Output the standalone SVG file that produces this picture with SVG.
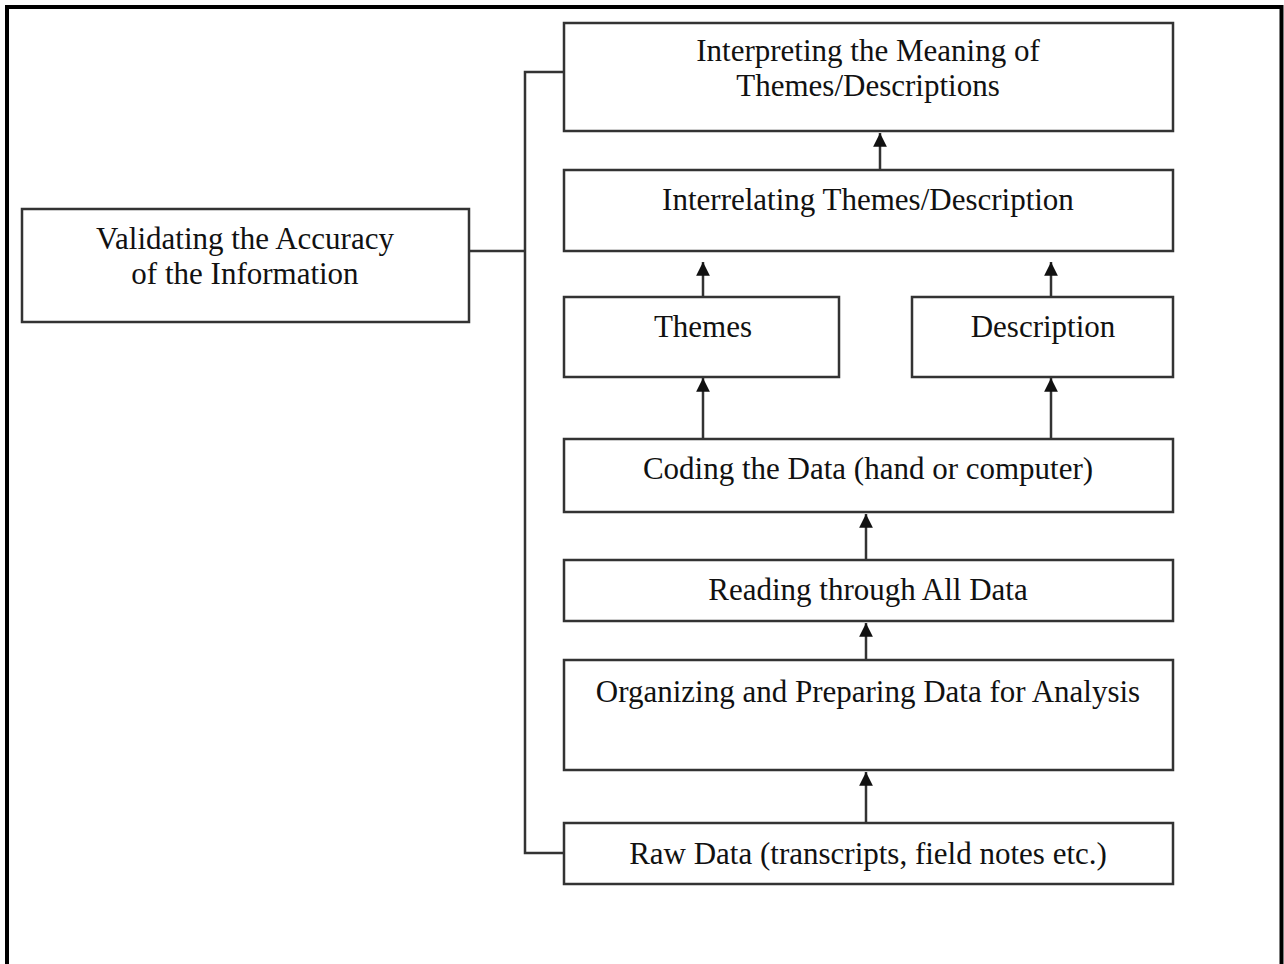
<svg xmlns="http://www.w3.org/2000/svg" width="1284" height="964" viewBox="0 0 1284 964">
<style>
.box{fill:#fff;stroke:#333;stroke-width:2.5}
.t{font-family:"Liberation Serif","Times New Roman",serif;font-size:31px;fill:#111;text-anchor:middle}
.c{fill:none;stroke:#333;stroke-width:2.5}
</style>
<defs>
<marker id="ah" viewBox="0 0 10 10" refX="10" refY="5" markerWidth="5.5" markerHeight="5.5" orient="auto" markerUnits="strokeWidth">
<path d="M0,0 L10,5 L0,10 z" fill="#111"/>
</marker>
</defs>
<rect width="1284" height="964" fill="#fff"/>
<path d="M7,964 V7 H1281.5 V964" fill="none" stroke="#000" stroke-width="4"/>
<g id="connectors">
<path class="c" d="M564,72 H525 V853 H564"/>
<path class="c" d="M469,251 H525"/>
<path class="c" d="M880,170 V133" marker-end="url(#ah)"/>
<path class="c" d="M703,297 V262" marker-end="url(#ah)"/>
<path class="c" d="M1051,297 V262" marker-end="url(#ah)"/>
<path class="c" d="M703,439 V378" marker-end="url(#ah)"/>
<path class="c" d="M1051,439 V378" marker-end="url(#ah)"/>
<path class="c" d="M866,560 V514" marker-end="url(#ah)"/>
<path class="c" d="M866,660 V623" marker-end="url(#ah)"/>
<path class="c" d="M866,823 V772" marker-end="url(#ah)"/>
</g>
<g id="interpreting">
<rect class="box" x="564" y="23" width="609" height="108"/>
<text class="t" x="868" y="61">Interpreting the Meaning of</text>
<text class="t" x="868" y="96">Themes/Descriptions</text>
</g>
<g id="interrelating">
<rect class="box" x="564" y="170" width="609" height="81"/>
<text class="t" x="868" y="210">Interrelating Themes/Description</text>
</g>
<g id="themes">
<rect class="box" x="564" y="297" width="275" height="80"/>
<text class="t" x="703" y="337">Themes</text>
</g>
<g id="description">
<rect class="box" x="912" y="297" width="261" height="80"/>
<text class="t" x="1043" y="337">Description</text>
</g>
<g id="coding">
<rect class="box" x="564" y="439" width="609" height="73"/>
<text class="t" x="868" y="479">Coding the Data (hand or computer)</text>
</g>
<g id="reading">
<rect class="box" x="564" y="560" width="609" height="61"/>
<text class="t" x="868" y="600">Reading through All Data</text>
</g>
<g id="organizing">
<rect class="box" x="564" y="660" width="609" height="110"/>
<text class="t" x="868" y="702">Organizing and Preparing Data for Analysis</text>
</g>
<g id="rawdata">
<rect class="box" x="564" y="823" width="609" height="61"/>
<text class="t" x="868" y="864">Raw Data (transcripts, field notes etc.)</text>
</g>
<g id="validating">
<rect class="box" x="22" y="209" width="447" height="113"/>
<text class="t" x="245" y="249">Validating the Accuracy</text>
<text class="t" x="245" y="284">of the Information</text>
</g>
</svg>
